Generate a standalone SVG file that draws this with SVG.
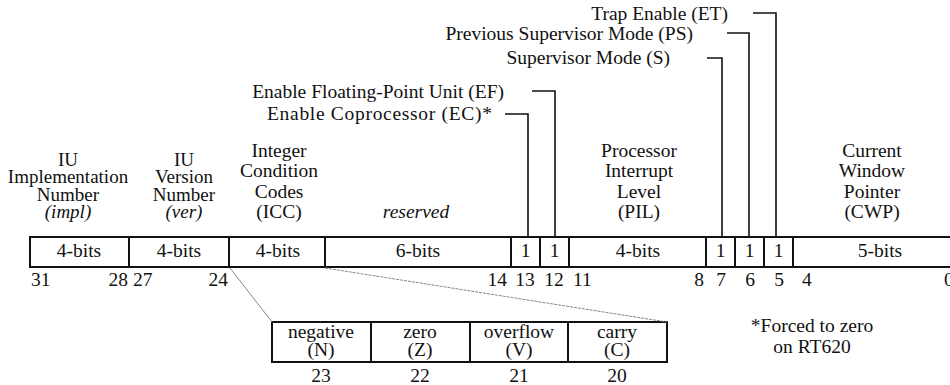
<svg xmlns="http://www.w3.org/2000/svg" width="950" height="385" viewBox="0 0 950 385">
<style>
text{font-family:"Liberation Serif","Times New Roman",serif;font-size:19.5px;fill:#111}
.c{text-anchor:middle}
.e{text-anchor:end}
.i{font-style:italic}
.t{font-size:19px}
.box{fill:#fff;stroke:#111;stroke-width:2}
.div{stroke:#111;stroke-width:2}
.ptr{fill:none;stroke:#111;stroke-width:1.6}
.exp{fill:none;stroke:#888;stroke-width:1}
</style>
<rect width="950" height="385" fill="#fff"/>

<g id="register">
<rect class="box" x="30" y="237" width="940" height="30"/>
</g>

<g id="field-impl">
<line class="div" x1="129" y1="237" x2="129" y2="267"/>
<text class="c t" x="68" y="165.5">IU</text>
<text class="c t" x="68" y="183">Implementation</text>
<text class="c t" x="68" y="200.5">Number</text>
<text class="c i t" x="68" y="218">(impl)</text>
<text class="c" x="79" y="257">4-bits</text>
<text x="31" y="286">31</text>
<text class="e" x="128" y="286">28</text>
</g>

<g id="field-ver">
<line class="div" x1="229" y1="237" x2="229" y2="267"/>
<text class="c t" x="184" y="165.5">IU</text>
<text class="c t" x="184" y="183">Version</text>
<text class="c t" x="184" y="200.5">Number</text>
<text class="c i t" x="184" y="218">(ver)</text>
<text class="c" x="179" y="257">4-bits</text>
<text x="133" y="286">27</text>
<text class="e" x="228" y="286">24</text>
</g>

<g id="field-icc">
<line class="div" x1="325" y1="237" x2="325" y2="267"/>
<text class="c" x="279" y="156.5">Integer</text>
<text class="c" x="279" y="177">Condition</text>
<text class="c" x="279" y="197.5">Codes</text>
<text class="c" x="279" y="218">(ICC)</text>
<text class="c" x="278" y="257">4-bits</text>
</g>

<g id="field-reserved">
<line class="div" x1="511" y1="237" x2="511" y2="267"/>
<text class="c i" x="416" y="218">reserved</text>
<text class="c" x="418" y="257">6-bits</text>
<text class="e" x="507" y="286">14</text>
</g>

<g id="field-ec">
<line class="div" x1="540" y1="237" x2="540" y2="267"/>
<text class="e" x="492" y="120" textLength="225" lengthAdjust="spacing">Enable Coprocessor (EC)*</text>
<text class="c" x="525.5" y="257">1</text>
<text class="c" x="525" y="286">13</text>
</g>

<g id="field-ef">
<line class="div" x1="569" y1="237" x2="569" y2="267"/>
<text class="e" x="504" y="98">Enable Floating-Point Unit (EF)</text>
<text class="c" x="554.5" y="257">1</text>
<text class="c" x="554" y="286">12</text>
</g>

<g id="field-pil">
<line class="div" x1="706" y1="237" x2="706" y2="267"/>
<text class="c" x="639" y="156.5">Processor</text>
<text class="c" x="639" y="177">Interrupt</text>
<text class="c" x="639" y="197.5">Level</text>
<text class="c" x="639" y="218">(PIL)</text>
<text class="c" x="638" y="257">4-bits</text>
<text x="573" y="286">11</text>
<text class="e" x="704" y="286">8</text>
</g>

<g id="field-s">
<line class="div" x1="735" y1="237" x2="735" y2="267"/>
<text class="e" x="670" y="64">Supervisor Mode (S)</text>
<text class="c" x="720.5" y="257">1</text>
<text class="c" x="721" y="286">7</text>
</g>

<g id="field-ps">
<line class="div" x1="764" y1="237" x2="764" y2="267"/>
<text class="e" x="693" y="40">Previous Supervisor Mode (PS)</text>
<text class="c" x="749.5" y="257">1</text>
<text class="c" x="750" y="286">6</text>
</g>

<g id="field-et">
<line class="div" x1="793" y1="237" x2="793" y2="267"/>
<text class="e" x="728" y="20">Trap Enable (ET)</text>
<text class="c" x="778.5" y="257">1</text>
<text class="c" x="779" y="286">5</text>
</g>

<g id="field-cwp">
<text class="c" x="872" y="156.5">Current</text>
<text class="c" x="872" y="177">Window</text>
<text class="c" x="872" y="197.5">Pointer</text>
<text class="c" x="872" y="218">(CWP)</text>
<text class="c" x="880" y="257">5-bits</text>
<text x="802" y="286">4</text>
<text x="944" y="286">0</text>
</g>

<g id="icc-detail">
<rect class="box" x="272" y="322" width="395" height="40"/>
<line class="div" x1="371" y1="322" x2="371" y2="362"/>
<line class="div" x1="470" y1="322" x2="470" y2="362"/>
<line class="div" x1="568" y1="322" x2="568" y2="362"/>
<g id="icc-n">
<text class="c" x="321" y="338">negative</text>
<text class="c" x="321" y="356">(N)</text>
<text class="c" x="321" y="382">23</text>
</g>
<g id="icc-z">
<text class="c" x="420" y="338">zero</text>
<text class="c" x="420" y="356">(Z)</text>
<text class="c" x="420" y="382">22</text>
</g>
<g id="icc-v">
<text class="c" x="519" y="338">overflow</text>
<text class="c" x="519" y="356">(V)</text>
<text class="c" x="519" y="382">21</text>
</g>
<g id="icc-c">
<text class="c" x="617" y="338">carry</text>
<text class="c" x="617" y="356">(C)</text>
<text class="c" x="617" y="382">20</text>
</g>
</g>

<g id="footnote">
<text class="c" x="812" y="332">*Forced to zero</text>
<text class="c" x="812" y="353">on RT620</text>
</g>

<g id="connectors">
<polyline class="ptr" points="505,114 528,114 528,237"/>
<polyline class="ptr" points="532,91 555,91 555,237"/>
<polyline class="ptr" points="707,58 722,58 722,237"/>
<polyline class="ptr" points="727,33 749,33 749,237"/>
<polyline class="ptr" points="753,13 776,13 776,237"/>
<line class="exp" x1="230" y1="268" x2="272" y2="322"/>
<line class="exp" x1="325" y1="268" x2="667" y2="322" stroke-dasharray="3 1"/>
</g>
</svg>
